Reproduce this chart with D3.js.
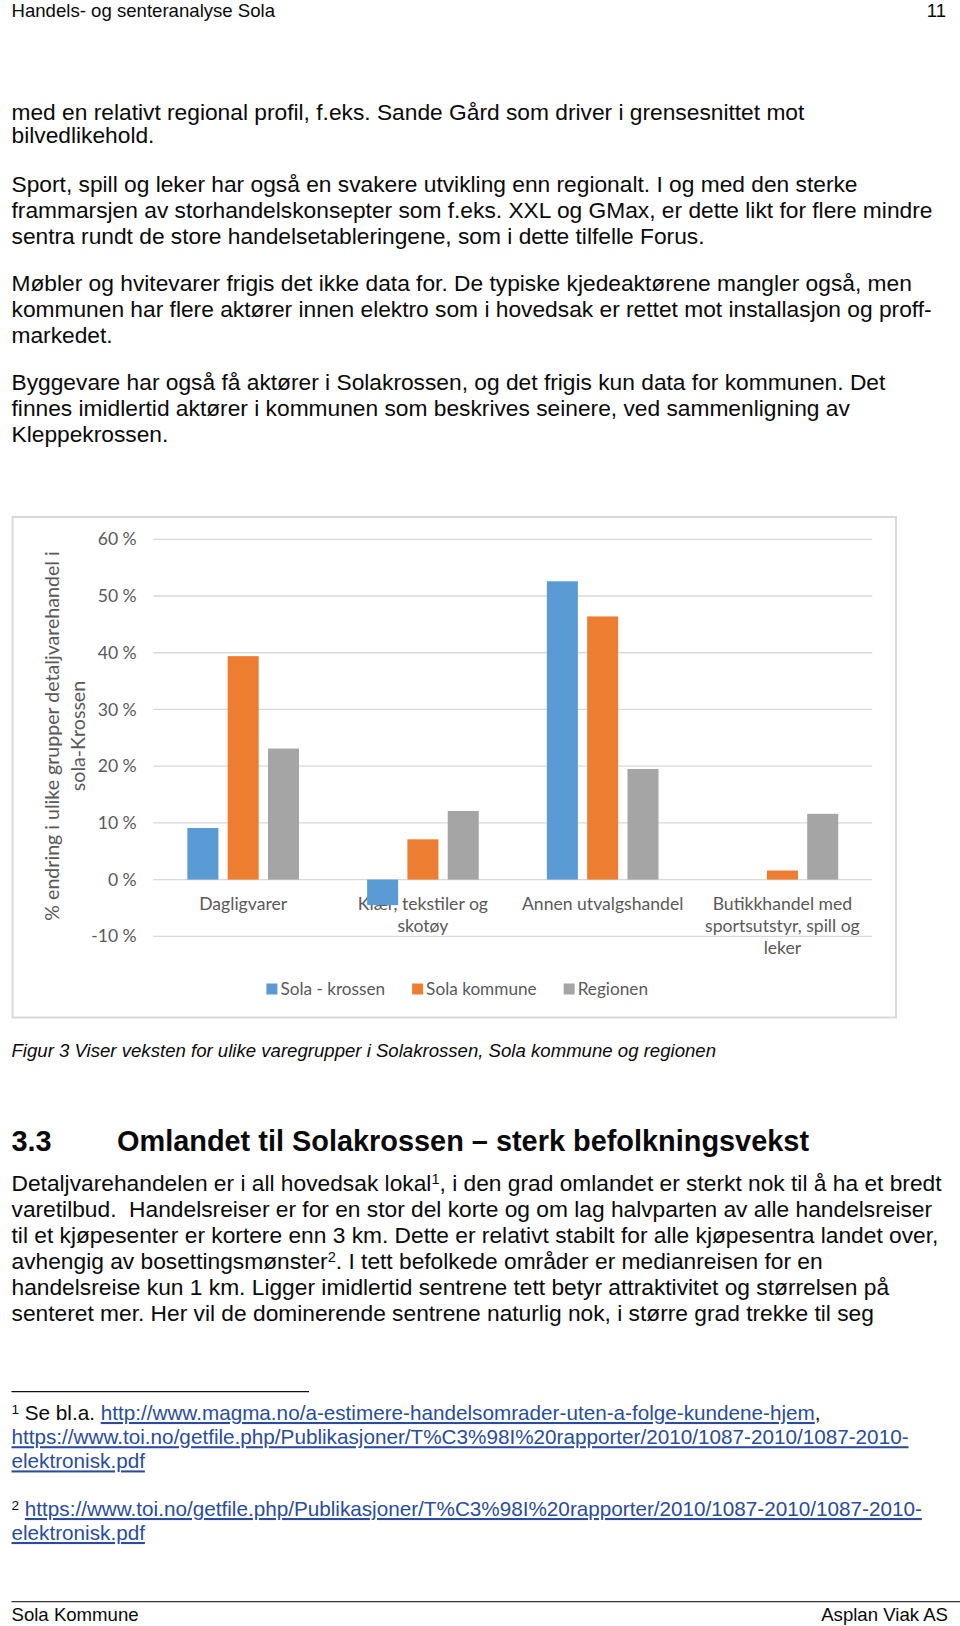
<!DOCTYPE html>
<html>
<head>
<meta charset="utf-8">
<script src="https://cdn.jsdelivr.net/npm/d3@7/dist/d3.min.js"></script>
<style>
  html, body { margin: 0; padding: 0; background: #fff; }
  svg { display: block; }
  .doc { font-family: "Liberation Sans", Arial, sans-serif; fill: #0a0a0a; }
  .chart text { font-family: Lato, "Open Sans", sans-serif; fill: #595959; }
</style>
</head>
<body>
<svg id="page" width="960" height="1626"></svg>
<script>
// ---------- chart data ----------
const categories = ["Dagligvarer", "Klær, tekstiler og skotøy", "Annen utvalgshandel", "Butikkhandel med sportsutstyr, spill og leker"];
const categoryLines = [["Dagligvarer"], ["Klær, tekstiler og", "skotøy"], ["Annen utvalgshandel"], ["Butikkhandel med", "sportsutstyr, spill og", "leker"]];
const seriesNames = ["Sola - krossen", "Sola kommune", "Regionen"];
const solaKrossen = [9.1, -4.5, 52.6, 0];
const solaKommune = [39.4, 7.1, 46.4, 1.6];
const regionen = [23.1, 12.1, 19.5, 11.6];
const seriesColors = ["#5B9BD5", "#ED7D31", "#A5A5A5"];
const yTicks = [-10, 0, 10, 20, 30, 40, 50, 60];
const yTickLabels = ["-10 %", "0 %", "10 %", "20 %", "30 %", "40 %", "50 %", "60 %"];
const yTitleLines = ["% endring i ulike grupper detaljvarehandel i", "sola-Krossen"];

// ---------- page text ----------
const headerLeft = "Handels- og senteranalyse Sola";
const headerRight = "11";
const para1 = ["med en relativt regional profil, f.eks. Sande Gård som driver i grensesnittet mot", "bilvedlikehold."];
const para2 = ["Sport, spill og leker har også en svakere utvikling enn regionalt. I og med den sterke",
  "frammarsjen av storhandelskonsepter som f.eks. XXL og GMax, er dette likt for flere mindre",
  "sentra rundt de store handelsetableringene, som i dette tilfelle Forus."];
const para3 = ["Møbler og hvitevarer frigis det ikke data for. De typiske kjedeaktørene mangler også, men",
  "kommunen har flere aktører innen elektro som i hovedsak er rettet mot installasjon og proff-",
  "markedet."];
const para4 = ["Byggevare har også få aktører i Solakrossen, og det frigis kun data for kommunen. Det",
  "finnes imidlertid aktører i kommunen som beskrives seinere, ved sammenligning av",
  "Kleppekrossen."];
const caption = "Figur 3 Viser veksten for ulike varegrupper i Solakrossen, Sola kommune og regionen";
const headingNum = "3.3";
const headingText = "Omlandet til Solakrossen – sterk befolkningsvekst";
// segments: [text, superscript?]
const para5 = [
  [["Detaljvarehandelen er i all hovedsak lokal", false], ["1", true], [", i den grad omlandet er sterkt nok til å ha et bredt", false]],
  [["varetilbud.\u00A0 Handelsreiser er for en stor del korte og om lag halvparten av alle handelsreiser", false]],
  [["til et kjøpesenter er kortere enn 3 km. Dette er relativt stabilt for alle kjøpesentra landet over,", false]],
  [["avhengig av bosettingsmønster", false], ["2", true], [". I tett befolkede områder er medianreisen for en", false]],
  [["handelsreise kun 1 km. Ligger imidlertid sentrene tett betyr attraktivitet og størrelsen på", false]],
  [["senteret mer. Her vil de dominerende sentrene naturlig nok, i større grad trekke til seg", false]]
];
const fn1Link1 = "http://www.magma.no/a-estimere-handelsomrader-uten-a-folge-kundene-hjem";
const fnToiLink = "https://www.toi.no/getfile.php/Publikasjoner/T%C3%98I%20rapporter/2010/1087-2010/1087-2010-";
const fnToiLink2 = "elektronisk.pdf";
const footerLeft = "Sola Kommune";
const footerRight = "Asplan Viak AS";

const svg = d3.select("#page");
const doc = svg.append("g").attr("class", "doc");
const LX = 11.5;
const BODY = 22.75;

function lines(arr, y0, dy) {
  arr.forEach((t, i) => doc.append("text").attr("x", LX).attr("y", y0 + i * dy)
    .attr("font-size", BODY).text(t));
}

// header
doc.append("text").attr("x", LX).attr("y", 17).attr("font-size", 18.6).text(headerLeft);
doc.append("text").attr("x", 946).attr("y", 17).attr("font-size", 18.6).attr("text-anchor", "end").text(headerRight);

lines(para1, 120.3, 22.6);
lines(para2, 191.7, 26.1);
lines(para3, 290.6, 26.1);
lines(para4, 390, 26.1);

// ---------- chart ----------
const chart = svg.append("g").attr("class", "chart");
chart.append("rect").attr("x", 12.5).attr("y", 517).attr("width", 883.5).attr("height", 500.5)
  .attr("fill", "#fff").attr("stroke", "#d9d9d9").attr("stroke-width", 2);

const x0 = d3.scaleBand().domain(categories).range([153.3, 872.3]).padding(0);
const x1 = d3.scaleBand().domain(seriesNames).range([0, x0.bandwidth()]).paddingInner(0.23).paddingOuter(0.845);
const y = d3.scaleLinear().domain([-10, 60]).range([936.3, 539.3]);

// gridlines
chart.append("g").selectAll("line").data(yTicks).join("line")
  .attr("x1", 153.3).attr("x2", 872.3)
  .attr("y1", d => y(d)).attr("y2", d => y(d))
  .attr("stroke", "#d9d9d9").attr("stroke-width", 1.3);

// y axis labels
const yAxis = d3.axisLeft(y).tickValues(yTicks).tickSize(0).tickPadding(16.6)
  .tickFormat((d, i) => yTickLabels[i]);
const yg = chart.append("g").attr("transform", "translate(153.3,0)").call(yAxis);
yg.select(".domain").remove();
yg.selectAll("text").attr("font-size", 17.6).attr("font-family", "Lato, 'Open Sans', sans-serif").attr("fill", "#595959");

// category labels
categories.forEach((c, i) => {
  const cx = x0(c) + x0.bandwidth() / 2;
  categoryLines[i].forEach((ln, j) => {
    chart.append("text").attr("x", cx).attr("y", 910 + j * 22).attr("text-anchor", "middle")
      .attr("font-size", 17.6).text(ln);
  });
});

// bars
const seriesValues = [solaKrossen, solaKommune, regionen];
seriesNames.forEach((s, si) => {
  chart.append("g").selectAll("rect").data(categories).join("rect")
    .attr("x", c => x0(c) + x1(s))
    .attr("width", x1.bandwidth())
    .attr("y", (c, ci) => y(Math.max(0, seriesValues[si][ci])))
    .attr("height", (c, ci) => Math.abs(y(seriesValues[si][ci]) - y(0)))
    .attr("fill", seriesColors[si]);
});

// y title
const yt = chart.append("text").attr("transform", "translate(59,736) rotate(-90)")
  .attr("text-anchor", "middle").attr("font-size", 19.6);
yTitleLines.forEach((t, i) => yt.append("tspan").attr("x", 0).attr("dy", i === 0 ? 0 : 25.5).text(t));

// legend
const leg = chart.append("g");
const items = seriesNames.map((s, i) => {
  const g = leg.append("g");
  g.append("rect").attr("width", 11).attr("height", 11).attr("y", -11).attr("fill", seriesColors[i]);
  const t = g.append("text").attr("x", 14).attr("y", 0).attr("font-size", 17.2).text(s);
  return { g, w: 14 + t.node().getComputedTextLength() };
});
const gapL = 27;
const totalW = d3.sum(items, d => d.w) + gapL * (items.length - 1);
let lx = 457.2 - totalW / 2;
items.forEach(it => { it.g.attr("transform", `translate(${lx},994.5)`); lx += it.w + gapL; });

// caption
doc.append("text").attr("x", LX).attr("y", 1057).attr("font-size", 18.6).attr("font-style", "italic").text(caption);

// heading
doc.append("text").attr("x", LX).attr("y", 1150.7).attr("font-size", 28.9).attr("font-weight", "bold").text(headingNum);
doc.append("text").attr("x", 117).attr("y", 1150.7).attr("font-size", 28.9).attr("font-weight", "bold").text(headingText);

// paragraph with superscripts
para5.forEach((segs, i) => {
  const t = doc.append("text").attr("x", LX).attr("y", 1191 + i * 25.9).attr("font-size", BODY);
  segs.forEach(([s, sup]) => {
    if (sup) t.append("tspan").attr("font-size", 14.6).attr("baseline-shift", "7.5").text(s);
    else t.append("tspan").text(s);
  });
});

// footnote separator
doc.append("line").attr("x1", LX).attr("x2", 309).attr("y1", 1391.7).attr("y2", 1391.7)
  .attr("stroke", "#111").attr("stroke-width", 1.3);

const FN = 20.7;
const LINK = "#2a4d9b";
function link(t, s) { return t.append("tspan").attr("fill", LINK).attr("text-decoration", "underline").text(s); }

let t = doc.append("text").attr("x", LX).attr("y", 1420).attr("font-size", FN);
t.append("tspan").attr("font-size", 13.6).attr("baseline-shift", "6.5").text("1");
t.append("tspan").text(" Se bl.a. ");
link(t, fn1Link1);
t.append("tspan").text(",");
t = doc.append("text").attr("x", LX).attr("y", 1444.2).attr("font-size", FN); link(t, fnToiLink);
t = doc.append("text").attr("x", LX).attr("y", 1468.4).attr("font-size", FN); link(t, fnToiLink2);

t = doc.append("text").attr("x", LX).attr("y", 1516).attr("font-size", FN);
t.append("tspan").attr("font-size", 13.6).attr("baseline-shift", "6.5").text("2");
t.append("tspan").text(" ");
link(t, fnToiLink);
t = doc.append("text").attr("x", LX).attr("y", 1540).attr("font-size", FN); link(t, fnToiLink2);

// footer
doc.append("line").attr("x1", LX).attr("x2", 960).attr("y1", 1601.7).attr("y2", 1601.7)
  .attr("stroke", "#333").attr("stroke-width", 1.3);
doc.append("text").attr("x", LX).attr("y", 1621).attr("font-size", 18.6).text(footerLeft);
doc.append("text").attr("x", 948).attr("y", 1621).attr("font-size", 18.6).attr("text-anchor", "end").text(footerRight);
</script>
</body>
</html>
